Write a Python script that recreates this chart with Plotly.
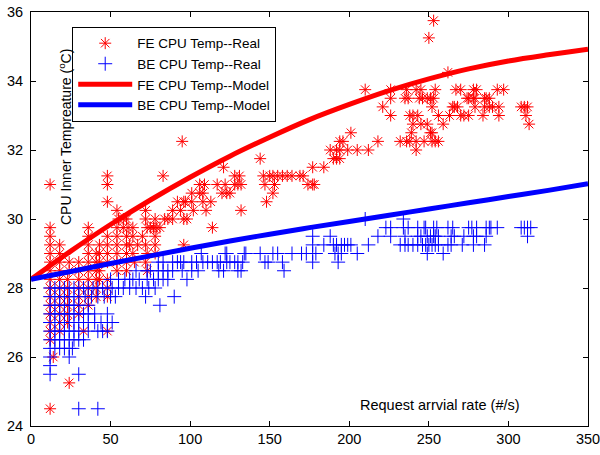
import plotly.graph_objects as go

# ---------------- data ----------------
# FE CPU Temp -- Real : temperature levels and request rates observed at each level
fe_levels = [35.75, 35.25, 34.25, 33.75, 33.5, 33.25, 33.0, 32.75, 32.5, 32.25, 32.0,
             31.75, 31.5, 31.25, 31.0, 30.75, 30.5, 30.25, 30.0, 29.75, 29.5, 29.25,
             29.0, 28.75, 28.5, 28.25, 28.0, 27.75, 27.5, 27.25, 27.0, 26.75, 26.5,
             26.0, 25.25, 24.5]
fe_rates = [
    [253],
    [250],
    [262],
    [210, 226, 236, 242, 245, 254, 267, 270, 278, 280, 293, 297],
    [226, 235, 237, 244, 246, 249, 251, 253, 274, 275, 278, 279, 285, 286, 288],
    [221, 252, 265, 266, 268, 279, 285, 288, 290, 294, 308, 310, 312],
    [226, 238, 240, 243, 256, 263, 270, 272, 275, 284, 294, 311],
    [240, 245, 249, 259, 313],
    [201, 239, 251, 252],
    [95, 194, 196, 218, 232, 236, 238, 242, 247, 252, 254, 256],
    [188, 192, 194, 199, 205, 212, 242],
    [144, 190, 192, 194],
    [121, 177, 184],
    [48, 83, 128, 131, 146, 150, 152, 155, 158, 161, 164, 169, 171],
    [12, 48, 106, 109, 117, 122, 128, 130, 132, 147, 153, 174, 177, 178],
    [101, 106, 108, 120, 123, 125, 152],
    [48, 92, 96, 97, 101, 108, 113, 148],
    [54, 72, 89, 94, 102, 110, 132],
    [55, 58, 60, 72, 78, 84, 86, 89, 96, 98],
    [12, 36, 54, 58, 61, 64, 73, 75, 77, 79, 81, 114],
    [12, 36, 48, 54, 60, 64, 70, 78],
    [12, 18, 36, 43, 48, 54, 60, 62, 67, 72, 78, 96],
    [12, 18, 36, 41, 43, 48, 54, 60, 64, 73, 78],
    [12, 18, 24, 30, 36, 41, 43, 48, 54, 60, 65, 72],
    [12, 18, 24, 30, 36, 41, 43, 54, 60, 73],
    [12, 18, 23, 30, 36, 41, 43, 48],
    [12, 18, 23, 30, 36, 41, 48],
    [12, 18, 23, 30, 36, 41, 48],
    [12, 18, 23, 30, 36],
    [12, 18, 23, 30],
    [12, 18, 23],
    [12, 18, 33, 48],
    [12],
    [14],
    [24],
    [12],
]

# BE CPU Temp -- Real
be_levels = [30.0, 29.75, 29.5, 29.25, 29.0, 28.75, 28.5, 28.25, 28.0, 27.75, 27.5,
             27.25, 27.0, 26.75, 26.5, 26.25, 26.0, 25.75, 25.5, 24.5]
be_rates = [
    [210, 234],
    [223, 226, 234, 237, 243, 247, 248, 253, 255, 262, 265, 275, 277, 280, 286, 288,
     289, 293, 308, 310, 312, 314],
    [177, 188, 218, 226, 235, 243, 245, 249, 251, 253, 254, 256, 264, 266, 272, 278,
     280, 286, 312],
    [177, 184, 190, 192, 195, 197, 199, 201, 212, 232, 235, 237, 240, 243, 246, 248,
     250, 252, 254, 256, 262, 264, 271, 278, 285],
    [107, 122, 123, 134, 135, 144, 152, 155, 164, 170, 173, 177, 179, 191, 193, 195,
     205, 249, 259],
    [80, 83, 89, 92, 94, 96, 101, 104, 108, 111, 114, 117, 119, 123, 125, 128, 130,
     133, 147, 149, 158, 177, 193],
    [66, 73, 75, 80, 83, 86, 89, 95, 101, 105, 118, 121, 130, 132, 159],
    [50, 55, 59, 62, 64, 68, 73, 77, 80, 83, 86, 98],
    [12, 15, 18, 21, 24, 27, 30, 33, 36, 39, 42, 45, 48, 51, 55, 58, 62, 66, 70, 74, 78],
    [12, 15, 18, 21, 24, 27, 30, 34, 38, 42, 46, 50, 53, 72, 90],
    [12, 15, 18, 21, 24, 27, 30, 36, 81],
    [12, 15, 18, 21, 24, 27, 30, 33, 36, 40, 48],
    [12, 15, 18, 21, 24, 27, 30, 33, 36, 40, 44, 48, 51],
    [12, 15, 18, 21, 24, 27, 30, 36, 42, 45, 48],
    [12, 15, 18, 21, 24, 27, 30, 33],
    [12, 15, 18, 21, 24, 26],
    [12, 24],
    [12],
    [12, 30],
    [30, 42],
]

# Model curves
model_x = [0, 25, 50, 75, 100, 125, 150, 175, 200, 225, 250, 275, 300, 325, 350]
fe_model = [28.25, 29.07, 29.84, 30.55, 31.21, 31.82, 32.37, 32.88, 33.32, 33.72,
            34.06, 34.35, 34.58, 34.76, 34.92]
be_model = [28.25, 28.48, 28.71, 28.93, 29.15, 29.36, 29.56, 29.75, 29.93, 30.11,
            30.29, 30.47, 30.65, 30.83, 31.02]

x_ticks = [0, 50, 100, 150, 200, 250, 300, 350]
y_ticks = [24, 26, 28, 30, 32, 34, 36]

# ---------------- build ----------------
fe_x, fe_y = [], []
for lvl, xs in zip(fe_levels, fe_rates):
    fe_x += xs
    fe_y += [lvl] * len(xs)
be_x, be_y = [], []
for lvl, xs in zip(be_levels, be_rates):
    be_x += xs
    be_y += [lvl] * len(xs)

FONT = "Arial, Liberation Sans, Helvetica, sans-serif"
FS = 14.5

fig = go.Figure()
fig.add_trace(go.Scatter(
    x=fe_x, y=fe_y, mode="markers", name="FE CPU Temp--Real",
    marker=dict(symbol="asterisk-open", size=10, color="#ff0000",
                line=dict(color="#ff0000", width=1))))
fig.add_trace(go.Scatter(
    x=be_x, y=be_y, mode="markers", name="BE CPU Temp--Real",
    marker=dict(symbol="cross-thin-open", size=10, color="#0000ff",
                line=dict(color="#0000ff", width=1))))
fig.add_trace(go.Scatter(
    x=model_x, y=fe_model, mode="lines", name="FE CPU Temp--Model",
    line=dict(color="#ff0000", width=5, shape="spline")))
fig.add_trace(go.Scatter(
    x=model_x, y=be_model, mode="lines", name="BE CPU Temp--Model",
    line=dict(color="#0000ff", width=5, shape="spline")))

axis_common = dict(
    showline=True, linecolor="black", linewidth=1, mirror="allticks",
    ticks="inside", ticklen=5, tickwidth=1, tickcolor="black",
    showgrid=False, zeroline=False, automargin=False,
    ticklabeloverflow="allow",
    tickfont=dict(family=FONT, size=FS, color="black"),
)
fig.update_xaxes(range=[0, 350], tickvals=x_ticks, **axis_common)
fig.update_yaxes(range=[24, 36], tickvals=y_ticks, ticklabelstandoff=4, **axis_common)

fig.add_annotation(
    text="CPU Inner Tempreature (<sup>o</sup>C)", textangle=-90,
    xref="paper", yref="paper", x=0.061, y=0.698, showarrow=False,
    xanchor="center", yanchor="middle",
    font=dict(family=FONT, size=14, color="black"))
fig.add_annotation(
    text="Request arrvial rate (#/s)",
    xref="paper", yref="paper", x=0.734, y=0.051, showarrow=False,
    xanchor="center", yanchor="middle",
    font=dict(family=FONT, size=FS, color="black"))

fig.update_layout(
    width=600, height=455,
    margin=dict(l=31, r=12, t=12, b=29),
    paper_bgcolor="white", plot_bgcolor="white",
    showlegend=True,
    legend=dict(x=0.074, y=0.964, xanchor="left", yanchor="top",
                bgcolor="white", bordercolor="black", borderwidth=1,
                font=dict(family=FONT, size=13.5, color="black"),
                itemwidth=54, tracegroupgap=0),
)

fig.write_html("out.html")
